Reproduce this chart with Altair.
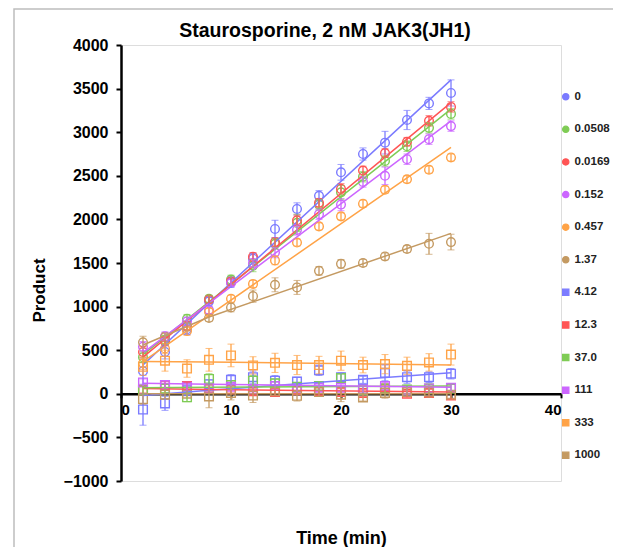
import altair as alt
import pandas as pd

# ---- data ----
times = [2, 4, 6, 8, 10, 12, 14, 16, 18, 20, 22, 24, 26, 28, 30]
series_names = ["0", "0.0508", "0.0169", "0.152", "0.457", "1.37",
                "4.12", "12.3", "37.0", "111", "333", "1000"]
colors = ["#7b7bff", "#7fcc55", "#ff5555", "#cc66ff", "#ffa347", "#c49a62",
          "#7b7bff", "#ff5555", "#7fcc55", "#cc66ff", "#ffa347", "#c49a62"]
shapes = ["circle"] * 6 + ["square"] * 6

values = {
    "0":      [260, 480, 740, 1060, 1280, 1550, 1890, 2120, 2270, 2540, 2750, 2880, 3140, 3330, 3450],
    "0.0508": [420, 620, 860, 1090, 1310, 1470, 1720, 1960, 2170, 2310, 2490, 2670, 2840, 3050, 3210],
    "0.0169": [480, 600, 780, 1080, 1290, 1570, 1740, 1990, 2190, 2350, 2560, 2760, 2890, 3130, 3290],
    "0.152":  [540, 660, 830, 960, 1270, 1500, 1620, 1880, 2060, 2170, 2430, 2500, 2690, 2920, 3070],
    "0.457":  [350, 520, 720, 940, 1090, 1260, 1530, 1735, 1920, 2035, 2180, 2340, 2460, 2570, 2710],
    "1.37":   [590, 650, 770, 870, 990, 1120, 1250, 1220, 1410, 1490, 1500, 1575, 1660, 1720, 1740],
    "4.12":   [-180, -110, 40, 110, 160, 190, 150, 140, 270, 190, 160, 240, 190, 190, 230],
    "12.3":   [50, 100, 90, 60, 50, 30, 20, 40, 30, 20, 10, 60, 0, 10, -20],
    "37.0":   [40, 60, -40, 170, 100, 150, 120, 80, 90, 180, 40, 60, 50, 60, 60],
    "111":    [130, 100, 80, 60, 80, 50, 90, 60, 70, 70, 50, 90, 40, 60, 70],
    "333":    [310, 380, 290, 390, 440, 325, 355, 330, 330, 380, 330, 340, 320, 360, 450],
    "1000":   [-60, -10, 0, -30, 10, -20, 30, -23, 20, -10, -42, 10, 20, 20, -10],
}
errors = {
    "0":      [150, 80, 60, 50, 60, 60, 100, 70, 60, 90, 70, 130, 110, 70, 150],
    "0.0508": [60, 50, 50, 40, 50, 70, 60, 100, 60, 80, 60, 60, 60, 60, 60],
    "0.0169": [60, 50, 50, 40, 40, 50, 50, 60, 50, 60, 50, 50, 50, 60, 60],
    "0.152":  [60, 50, 50, 40, 40, 50, 60, 60, 60, 70, 60, 100, 60, 60, 60],
    "0.457":  [70, 60, 50, 40, 40, 40, 50, 40, 40, 40, 40, 40, 40, 40, 40],
    "1.37":   [70, 50, 50, 40, 50, 70, 80, 80, 50, 50, 40, 40, 40, 120, 90],
    "4.12":   [180, 80, 60, 50, 60, 70, 60, 50, 60, 50, 40, 90, 70, 60, 60],
    "12.3":   [40, 40, 40, 40, 40, 40, 40, 40, 40, 40, 40, 40, 40, 40, 40],
    "37.0":   [50, 50, 50, 60, 50, 60, 50, 50, 50, 50, 50, 50, 50, 50, 50],
    "111":    [40, 40, 40, 40, 40, 40, 40, 40, 40, 40, 40, 40, 40, 40, 40],
    "333":    [100, 120, 100, 130, 130, 100, 110, 110, 100, 110, 90, 110, 100, 100, 120],
    "1000":   [60, 50, 40, 130, 80, 80, 50, 60, 50, 80, 40, 60, 50, 60, 40],
}
fit_times = [2, 8, 30]
fits = {
    "0":      [330, 1040, 3600],
    "0.0508": [450, 1055, 3265],
    "0.0169": [420, 1045, 3340],
    "0.152":  [470, 1040, 3130],
    "0.457":  [370, 900, 2825],
    "1.37":   [560, 880, 1840],
    "4.12":   [-20, 40, 240],
    "12.3":   [60, 50, 20],
    "37.0":   [70, 75, 90],
    "111":    [120, 110, 75],
    "333":    [370, 365, 330],
    "1000":   [0, 0, 0],
}

rows = []
for s in series_names:
    for t, v, e in zip(times, values[s], errors[s]):
        rows.append({"series": s, "t": t, "v": v, "lo": v - e, "hi": v + e})
pts = pd.DataFrame(rows)
fit_rows = []
for s in series_names:
    for t, v in zip(fit_times, fits[s]):
        fit_rows.append({"series": s, "t": t, "v": v})
fitdf = pd.DataFrame(fit_rows)

FONT = "Liberation Sans"
W, H = 440, 436
XT, YT = "Time (min)", "Product"

xs = alt.Scale(domain=[0, 40], nice=False, zero=False)
ys = alt.Scale(domain=[-1000, 4000], nice=False)
legend = alt.Legend(orient="none", legendX=439, legendY=46,
                    rowPadding=19.6, labelFontSize=11.5,
                    labelFont=FONT, labelFontWeight="bold",
                    labelColor="#222222", symbolSize=40,
                    symbolStrokeWidth=1.2, labelOffset=3,
                    symbolFillColor="white", labelLimit=80,
                    padding=0)
stroke = alt.Stroke("series:N", scale=alt.Scale(domain=series_names, range=colors),
                    title=None, legend=legend)
color = alt.Color("series:N", scale=alt.Scale(domain=series_names, range=colors), legend=None)
shape = alt.Shape("series:N", scale=alt.Scale(domain=series_names, range=shapes), title=None)

xaxis = alt.Axis(values=[0, 10, 20, 30, 40], format="d", grid=False, offset=-H * 0.2,
                 domainColor="black", domainWidth=2.5, tickColor="black", tickWidth=2,
                 tickSize=4, labelFont=FONT, labelFontSize=15, labelFontWeight="bold",
                 labelColor="black", labelPadding=5,
                 titleFont=FONT, titleFontSize=18, titleFontWeight="bold",
                 titleY=136, titleColor="black")
yaxis = alt.Axis(values=list(range(-1000, 4001, 500)), format="d", grid=False,
                 domainColor="black", domainWidth=2.5, tickColor="black", tickWidth=2,
                 tickSize=5, labelFont=FONT, labelFontSize=16, labelFontWeight="bold",
                 labelColor="black", labelPadding=8,
                 titleFont=FONT, titleFontSize=17, titleFontWeight="bold",
                 titleX=-73, titleY=245, titleColor="black")

frame = alt.Chart(pd.DataFrame({"a": [0]})).mark_rect(
    fill=None, stroke="#bdbdbd", strokeWidth=1.5
).encode(x=alt.value(-107), x2=alt.value(540), y=alt.value(-36), y2=alt.value(560))

points = alt.Chart(pts).mark_point(filled=False, size=75, strokeWidth=1.4, opacity=1).encode(
    x=alt.X("t:Q", scale=xs, axis=xaxis, title=XT),
    y=alt.Y("v:Q", scale=ys, axis=yaxis, title=YT),
    stroke=stroke, shape=shape,
)
lines = alt.Chart(fitdf).mark_line(strokeWidth=1.5).encode(
    x=alt.X("t:Q", scale=xs, title=XT),
    y=alt.Y("v:Q", scale=ys, title=YT),
    color=color, detail="series:N", order="t:Q",
)
ebars = alt.Chart(pts).mark_errorbar(
    ticks={"size": 7, "strokeWidth": 1.3}, rule={"strokeWidth": 1.3}
).encode(
    x=alt.X("t:Q", scale=xs, title=XT),
    y=alt.Y("lo:Q", scale=ys, title=YT),
    y2="hi:Q",
    color=color,
)

chart = alt.layer(frame, points, lines, ebars).properties(
    width=W, height=H,
    title=alt.TitleParams("Staurosporine, 2 nM JAK3(JH1)", font=FONT, fontSize=19.5,
                          fontWeight="bold", color="black", offset=-33, dx=-16,
                          frame="group"),
    autosize=alt.AutoSizeParams(type="none"),
    padding={"left": 113, "top": 37, "right": 52, "bottom": 66},
).configure_view(stroke=None).configure(background="white")

chart.save("out.html", embed_options={"renderer": "svg", "actions": False})
